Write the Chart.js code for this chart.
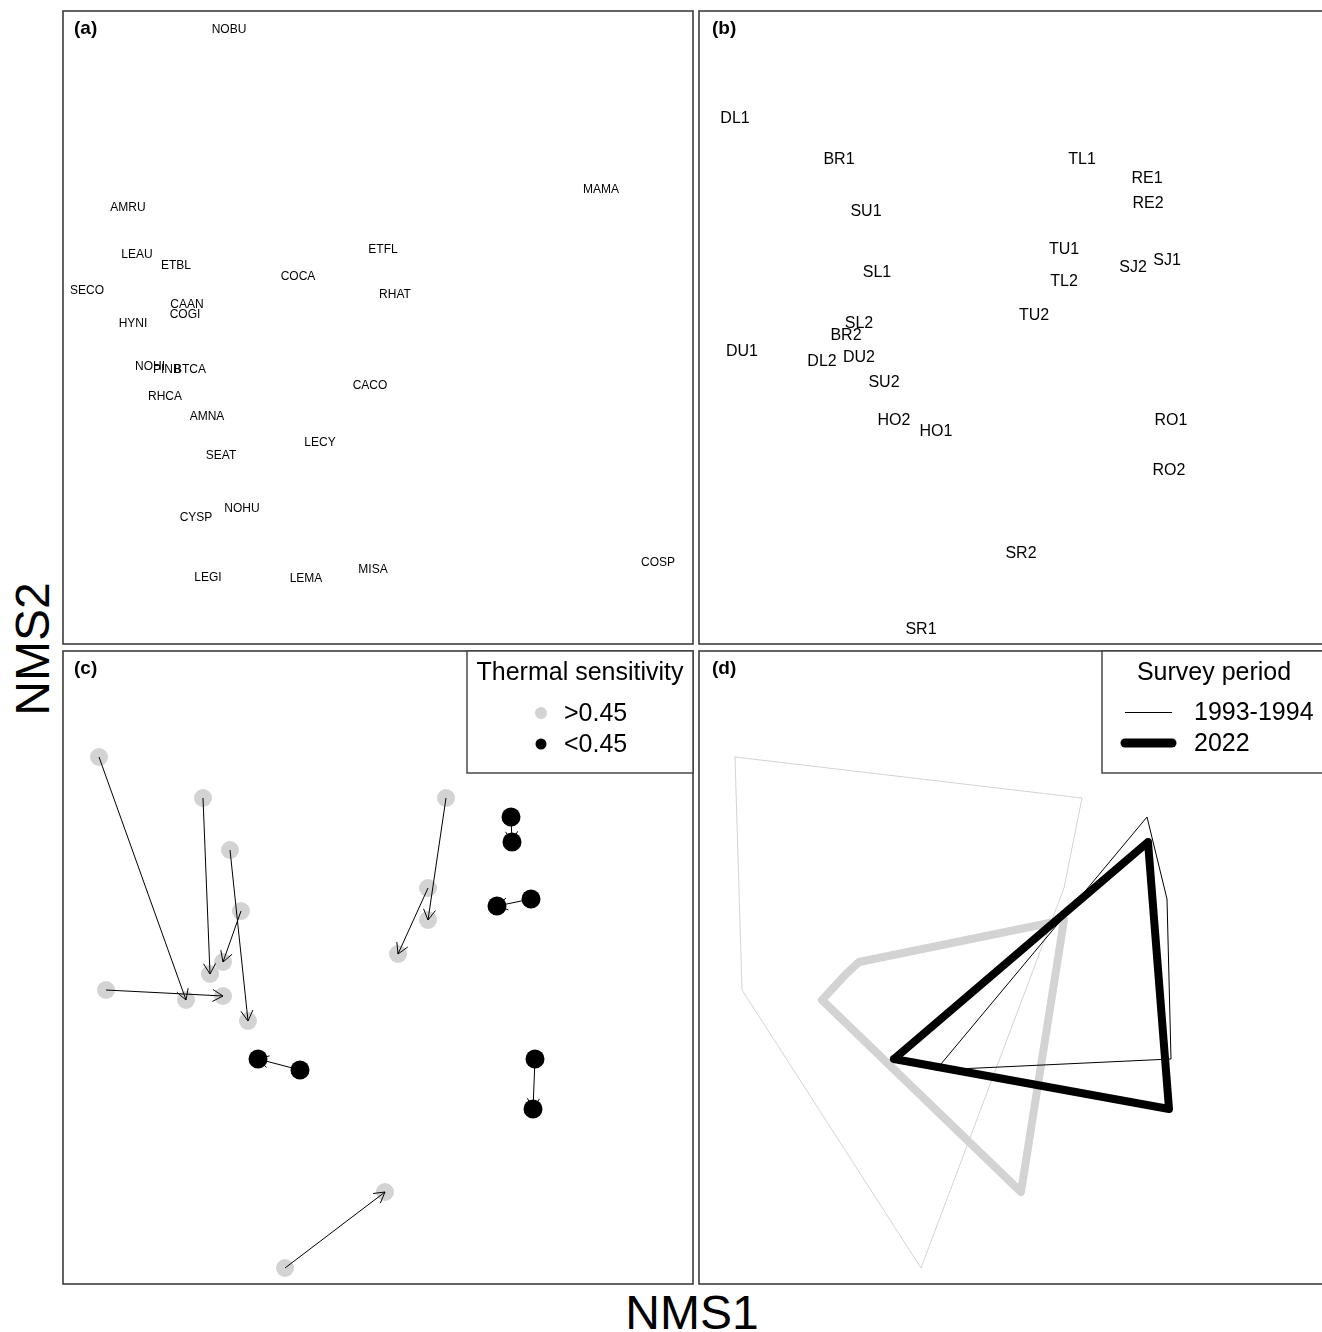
<!DOCTYPE html>
<html><head><meta charset="utf-8">
<script src="https://cdn.jsdelivr.net/npm/chart.js@4.4.1/dist/chart.umd.min.js"></script>
<style>
html,body{margin:0;padding:0;background:#fff;overflow:hidden;width:1322px;height:1332px;position:relative;}
canvas{position:absolute;}
.ax{position:absolute;font-family:"Liberation Sans",Arial,sans-serif;font-size:48px;color:#000;line-height:1;white-space:nowrap;}
</style></head><body>
<canvas id="pa" width="632" height="635" style="left:62px;top:10px"></canvas>
<canvas id="pb" width="632" height="635" style="left:698px;top:10px"></canvas>
<canvas id="pc" width="632" height="635" style="left:62px;top:650px"></canvas>
<canvas id="pd" width="632" height="635" style="left:698px;top:650px"></canvas>
<div class="ax" id="xt" style="left:692px;top:1313px;transform:translate(-50%,-50%);">NMS1</div>
<div class="ax" id="yt" style="left:33px;top:649px;transform:translate(-50%,-50%) rotate(-90deg);">NMS2</div>
<script>
// ---- Panel (a): species scores (NMS units) ----
const speciesCodes = ['NOBU','MAMA','AMRU','LEAU','ETBL','ETFL','COCA','SECO','RHAT','CAAN','COGI','HYNI','NOHI','PINB','BTCA','RHCA','AMNA','CACO','LECY','SEAT','NOHU','CYSP','COSP','MISA','LEGI','LEMA'];
const speciesX = [1.66,5.38,0.65,0.74,1.13,3.20,2.35,0.24,3.32,1.24,1.22,0.70,0.87,1.04,1.27,1.02,1.44,3.07,2.57,1.58,1.79,1.33,5.95,3.10,1.45,2.43];
const speciesY = [6.16,4.56,4.38,3.91,3.80,3.96,3.69,3.55,3.51,3.41,3.31,3.22,2.79,2.76,2.76,2.49,2.29,2.60,2.03,1.90,1.37,1.28,0.83,0.76,0.68,0.67];

// ---- Panels (b)-(d): site scores per survey period ----
const siteCodes = ['DL','BR','SU','SL','DU','TL','TU','SR','RE','SJ','HO','RO'];
const siteGroup = [0,0,0,0,0,0,0,0,1,1,1,1]; // index into thermalLabels
const siteX1 = [0.36,1.40,1.67,1.78,0.43,3.83,3.65,2.22,4.48,4.68,2.37,4.72];
const siteY1 = [5.27,4.86,4.34,3.73,2.94,4.86,3.96,0.16,4.67,3.85,2.14,2.25];
const siteX2 = [1.23,1.47,1.85,1.60,1.60,3.65,3.35,3.22,4.49,4.34,1.95,4.70];
const siteY2 = [2.84,3.10,2.63,3.22,2.88,3.64,3.30,0.92,4.42,3.78,2.25,1.75];

const thermalTitle = 'Thermal sensitivity';
const thermalLabels = ['>0.45','<0.45'];
const thermalColors = ['#d3d3d3','#000000'];
const periodTitle = 'Survey period';
const periodLabels = ['1993-1994','2022'];
const periodWidths = [1,8];
const panelTags = ['(a)','(b)','(c)','(d)'];
const axisTitles = ['NMS1','NMS2'];

const XMAX = 6.3, YMAX = 6.33;
const FONT = '"Liberation Sans", Arial, Helvetica, sans-serif';

document.getElementById('xt').textContent = axisTitles[0];
document.getElementById('yt').textContent = axisTitles[1];

function baseOptions(){
  return {
    responsive:false, animation:false, events:[],
    layout:{padding:1, autoPadding:false},
    plugins:{legend:{display:false}, tooltip:{enabled:false}},
    scales:{
      x:{type:'linear', min:0, max:XMAX, display:false},
      y:{type:'linear', min:0, max:YMAX, display:false}
    }
  };
}
function framePlugin(tag, dx){
  return {
    id:'frame'+tag,
    afterDraw(chart){
      const c = chart.ctx, a = chart.chartArea;
      c.save();
      c.strokeStyle = '#3c3c3c'; c.lineWidth = 1.6;
      c.strokeRect(a.left, a.top, a.right - a.left, a.bottom - a.top);
      c.fillStyle = '#000';
      c.font = 'bold 19px ' + FONT;
      c.textAlign = 'left'; c.textBaseline = 'middle';
      c.fillText(tag, a.left + dx, a.top + 18);
      c.restore();
    }
  };
}
function labelPlugin(id, dsIndex, labels, size){
  return {
    id:id,
    afterDatasetsDraw(chart){
      const c = chart.ctx, xs = chart.scales.x, ys = chart.scales.y;
      const data = chart.data.datasets[dsIndex].data;
      c.save();
      c.fillStyle = '#000';
      c.font = size + 'px ' + FONT;
      c.textAlign = 'center'; c.textBaseline = 'middle';
      data.forEach((p,i)=>{
        c.fillText(labels[i], xs.getPixelForValue(p.x), ys.getPixelForValue(p.y) + 2);
      });
      c.restore();
    }
  };
}

// Panel (a)
new Chart(document.getElementById('pa'), {
  type:'scatter',
  data:{datasets:[{data:speciesCodes.map((s,i)=>({x:speciesX[i], y:speciesY[i]})), pointRadius:0}]},
  options:baseOptions(),
  plugins:[labelPlugin('spLabels',0,speciesCodes,12), framePlugin(panelTags[0], 11)]
});

// Panel (b)
const siteLabelList = siteCodes.map(s=>s+'1').concat(siteCodes.map(s=>s+'2'));
const sitePointList = siteCodes.map((s,i)=>({x:siteX1[i], y:siteY1[i]})).concat(siteCodes.map((s,i)=>({x:siteX2[i], y:siteY2[i]})));
new Chart(document.getElementById('pb'), {
  type:'scatter',
  data:{datasets:[{data:sitePointList, pointRadius:0}]},
  options:baseOptions(),
  plugins:[labelPlugin('siteLabels',0,siteLabelList,16), framePlugin(panelTags[1], 13)]
});

// Panel (c)
function groupPoints(g){
  const pts = [];
  siteCodes.forEach((s,i)=>{ if(siteGroup[i]===g){ pts.push({x:siteX1[i], y:siteY1[i]}); pts.push({x:siteX2[i], y:siteY2[i]}); } });
  return pts;
}
const arrowPlugin = {
  id:'arrows',
  afterDatasetsDraw(chart){
    const c = chart.ctx, xs = chart.scales.x, ys = chart.scales.y;
    c.save();
    c.strokeStyle = '#000'; c.lineWidth = 1;
    siteCodes.forEach((s,i)=>{
      const x0 = xs.getPixelForValue(siteX1[i]), y0 = ys.getPixelForValue(siteY1[i]);
      const x1 = xs.getPixelForValue(siteX2[i]), y1 = ys.getPixelForValue(siteY2[i]);
      const a = Math.atan2(y1-y0, x1-x0), L = 12, ang = Math.PI/6;
      c.beginPath();
      c.moveTo(x0,y0); c.lineTo(x1,y1);
      c.moveTo(x1 - L*Math.cos(a-ang), y1 - L*Math.sin(a-ang));
      c.lineTo(x1,y1);
      c.lineTo(x1 - L*Math.cos(a+ang), y1 - L*Math.sin(a+ang));
      c.stroke();
    });
    c.restore();
  }
};
const legendC = {
  id:'legendC',
  afterDraw(chart){
    const c = chart.ctx, a = chart.chartArea;
    const R = a.right, T = a.top;
    c.save();
    c.fillStyle = '#fff';
    c.fillRect(R-226, T, 226, 122);
    c.strokeStyle = '#3c3c3c'; c.lineWidth = 1.4;
    c.strokeRect(R-226, T, 226, 122);
    c.fillStyle = '#000';
    c.font = '25px ' + FONT;
    c.textAlign = 'center'; c.textBaseline = 'middle';
    c.fillText(thermalTitle, R-113, T+22);
    c.textAlign = 'left';
    thermalLabels.forEach((lab,k)=>{
      const y = T + 62 + k*31;
      c.fillStyle = thermalColors[k];
      c.beginPath(); c.arc(R-152, y, k===0?6:5.5, 0, Math.PI*2); c.fill();
      c.fillStyle = '#000';
      c.fillText(lab, R-129, y+1);
    });
    c.restore();
  }
};
new Chart(document.getElementById('pc'), {
  type:'scatter',
  data:{datasets:[
    {data:groupPoints(1), pointRadius:9.5, pointBackgroundColor:thermalColors[1], pointBorderWidth:0},
    {data:groupPoints(0), pointRadius:9, pointBackgroundColor:thermalColors[0], pointBorderWidth:0}
  ]},
  options:baseOptions(),
  plugins:[arrowPlugin, framePlugin(panelTags[2], 11), legendC]
});

// Panel (d): convex hulls per thermal group and survey period
function hull(points){
  const p = points.slice().sort((a,b)=>a.x-b.x || a.y-b.y);
  const cross = (o,a,b)=>(a.x-o.x)*(b.y-o.y)-(a.y-o.y)*(b.x-o.x);
  const lower=[], upper=[];
  for(const q of p){ while(lower.length>=2 && cross(lower[lower.length-2],lower[lower.length-1],q)<=0) lower.pop(); lower.push(q); }
  for(let i=p.length-1;i>=0;i--){ const q=p[i]; while(upper.length>=2 && cross(upper[upper.length-2],upper[upper.length-1],q)<=0) upper.pop(); upper.push(q); }
  upper.pop(); lower.pop();
  const h = lower.concat(upper);
  h.push(h[0]);
  return h;
}
function periodGroup(period, g){
  const xs = period===0?siteX1:siteX2, ys = period===0?siteY1:siteY2;
  return siteCodes.map((s,i)=>({x:xs[i], y:ys[i], g:siteGroup[i]})).filter(p=>p.g===g).map(p=>({x:p.x,y:p.y}));
}
function hullDs(period, g){
  return {data:hull(periodGroup(period,g)), showLine:true, pointRadius:0, borderColor:thermalColors[g],
    borderWidth:periodWidths[period], borderJoinStyle:'round', borderCapStyle:'round', tension:0, fill:false};
}
const legendD = {
  id:'legendD',
  afterDraw(chart){
    const c = chart.ctx, a = chart.chartArea;
    const L = a.left + 403, T = a.top;
    c.save();
    c.fillStyle = '#fff';
    c.fillRect(L, T, 300, 122);
    c.strokeStyle = '#3c3c3c'; c.lineWidth = 1.4;
    c.strokeRect(L, T, 300, 122);
    c.fillStyle = '#000';
    c.font = '25px ' + FONT;
    c.textAlign = 'center'; c.textBaseline = 'middle';
    c.fillText(periodTitle, L+112, T+22);
    c.textAlign = 'left';
    periodLabels.forEach((lab,k)=>{
      const y = T + 61 + k*31;
      const ly = k===0 ? Math.round(y) + 0.5 : y;
      c.strokeStyle = '#000'; c.lineWidth = periodWidths[k] + (k===1?1:0); c.lineCap = k===1?'round':'butt';
      c.beginPath(); c.moveTo(L+23, ly); c.lineTo(L+70, ly); c.stroke();
      c.fillText(lab, L+92, y+1);
    });
    c.restore();
  }
};
new Chart(document.getElementById('pd'), {
  type:'scatter',
  data:{datasets:[hullDs(0,1), hullDs(1,1), hullDs(1,0), hullDs(0,0)]},
  options:baseOptions(),
  plugins:[framePlugin(panelTags[3], 13), legendD]
});
</script>
</body></html>
